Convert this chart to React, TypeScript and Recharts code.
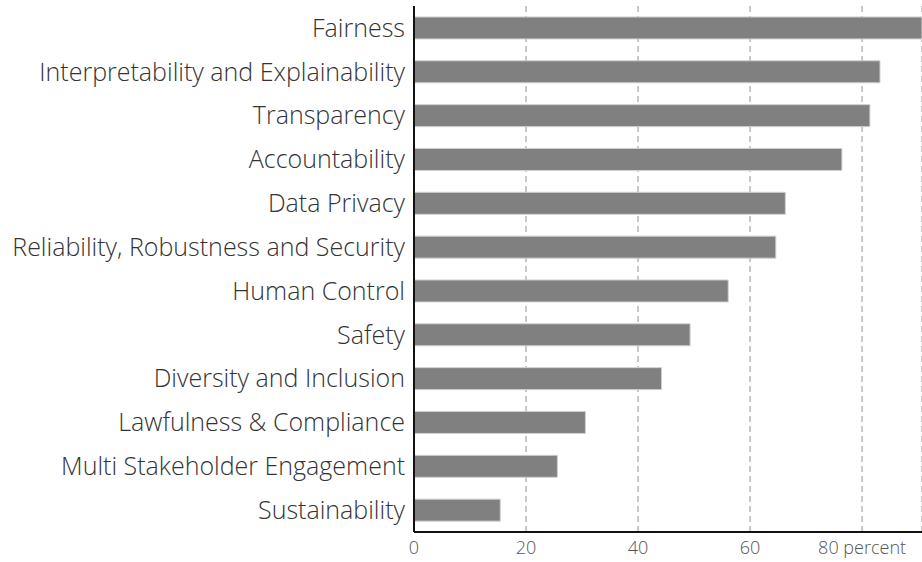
import { BarChart, Bar, XAxis, YAxis, CartesianGrid } from 'recharts';

const categories = [
  'Fairness',
  'Interpretability and Explainability',
  'Transparency',
  'Accountability',
  'Data Privacy',
  'Reliability, Robustness and Security',
  'Human Control',
  'Safety',
  'Diversity and Inclusion',
  'Lawfulness & Compliance',
  'Multi Stakeholder Engagement',
  'Sustainability',
];

const percents = [90.7, 83.2, 81.4, 76.4, 66.3, 64.6, 56.1, 49.3, 44.2, 30.6, 25.6, 15.4];

const xTicks = [0, 20, 40, 60, 80];

const data = categories.map((name, i) => ({ name, value: percents[i] }));

const fontFamily = '"Open Sans", Lato, sans-serif';

export default function App() {
  return (
    <div style={{ position: 'absolute', left: 0, top: 0, background: '#fff' }}>
      <BarChart
        width={922}
        height={562}
        data={data}
        layout="vertical"
        margin={{ top: 6, right: 0, bottom: 0, left: 0 }}
        barCategoryGap="25%"
      >
        <CartesianGrid
          horizontal={false}
          stroke="#c8c8c8"
          strokeWidth={2}
          strokeDasharray="6 4"
        />
        <XAxis
          type="number"
          domain={[0, 90.7]}
          ticks={xTicks}
          allowDataOverflow
          height={30}
          tickLine={false}
          axisLine={{ stroke: '#111', strokeWidth: 2 }}
          tickFormatter={(v: number) => (v === 80 ? '80 percent' : String(v))}
          tick={{ fill: '#555', fontSize: 18, fontFamily, fontWeight: 300 }}
          tickMargin={3}
        />
        <YAxis
          type="category"
          dataKey="name"
          width={414}
          tickLine={false}
          axisLine={{ stroke: '#111', strokeWidth: 2 }}
          interval={0}
          tick={{ fill: '#333', fontSize: 25, fontFamily, fontWeight: 300 }}
          tickMargin={3}
        />
        <Bar
          dataKey="value"
          fill="#808080"
          stroke="#d0d0d0"
          strokeWidth={1}
          isAnimationActive={false}
        />
      </BarChart>
    </div>
  );
}
